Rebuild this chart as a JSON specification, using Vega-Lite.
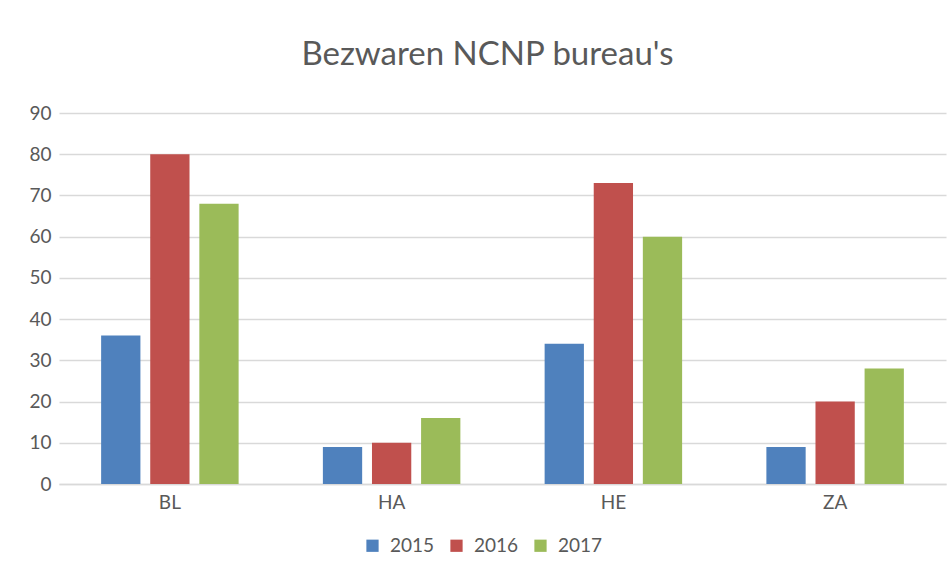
{
  "$schema": "https://vega.github.io/schema/vega-lite/v6.json",
  "width": 887,
  "height": 371,
  "autosize": {"type": "none"},
  "padding": {"left": 59, "top": 113, "right": 5, "bottom": 92},
  "background": "white",
  "title": {
    "text": "Bezwaren NCNP bureau's",
    "font": "Lato",
    "fontSize": 33,
    "fontWeight": "normal",
    "color": "#595959",
    "anchor": "middle",
    "dx": -15,
    "offset": 32
  },
  "data": {
    "values": [
      {"bureau": "BL", "jaar": "2015", "aantal": 36},
      {"bureau": "BL", "jaar": "2016", "aantal": 80},
      {"bureau": "BL", "jaar": "2017", "aantal": 68},
      {"bureau": "HA", "jaar": "2015", "aantal": 9},
      {"bureau": "HA", "jaar": "2016", "aantal": 10},
      {"bureau": "HA", "jaar": "2017", "aantal": 16},
      {"bureau": "HE", "jaar": "2015", "aantal": 34},
      {"bureau": "HE", "jaar": "2016", "aantal": 73},
      {"bureau": "HE", "jaar": "2017", "aantal": 60},
      {"bureau": "ZA", "jaar": "2015", "aantal": 9},
      {"bureau": "ZA", "jaar": "2016", "aantal": 20},
      {"bureau": "ZA", "jaar": "2017", "aantal": 28}
    ]
  },
  "mark": {"type": "bar"},
  "encoding": {
    "x": {
      "field": "bureau",
      "type": "nominal",
      "scale": {"paddingInner": 0.38, "paddingOuter": 0.19},
      "axis": {
        "title": null,
        "labelAngle": 0,
        "labelFont": "Lato",
        "labelFontSize": 19,
        "labelColor": "#595959",
        "labelPadding": 9,
        "ticks": false,
        "domainColor": "#d9d9d9",
        "domainWidth": 1.5
      }
    },
    "xOffset": {
      "field": "jaar",
      "type": "nominal",
      "scale": {"paddingInner": 0.2, "paddingOuter": 0}
    },
    "y": {
      "field": "aantal",
      "type": "quantitative",
      "scale": {"domain": [0, 90]},
      "axis": {
        "title": null,
        "values": [0, 10, 20, 30, 40, 50, 60, 70, 80, 90],
        "labelFont": "Lato",
        "labelFontSize": 19,
        "labelColor": "#595959",
        "labelPadding": 8,
        "ticks": false,
        "domain": false,
        "gridColor": "#d9d9d9",
        "gridWidth": 1.5
      }
    },
    "color": {
      "field": "jaar",
      "type": "nominal",
      "scale": {"domain": ["2015", "2016", "2017"], "range": ["#4f81bd", "#c0504d", "#9bbb59"]},
      "legend": {
        "title": null,
        "orient": "none",
        "direction": "horizontal",
        "legendX": 304,
        "legendY": 423,
        "symbolType": "square",
        "symbolSize": 150,
        "symbolStrokeWidth": 0,
        "labelFont": "Lato",
        "labelFontSize": 19,
        "labelColor": "#595959",
        "labelOffset": 8,
        "columnPadding": 12
      }
    }
  },
  "config": {"view": {"stroke": null}}
}
